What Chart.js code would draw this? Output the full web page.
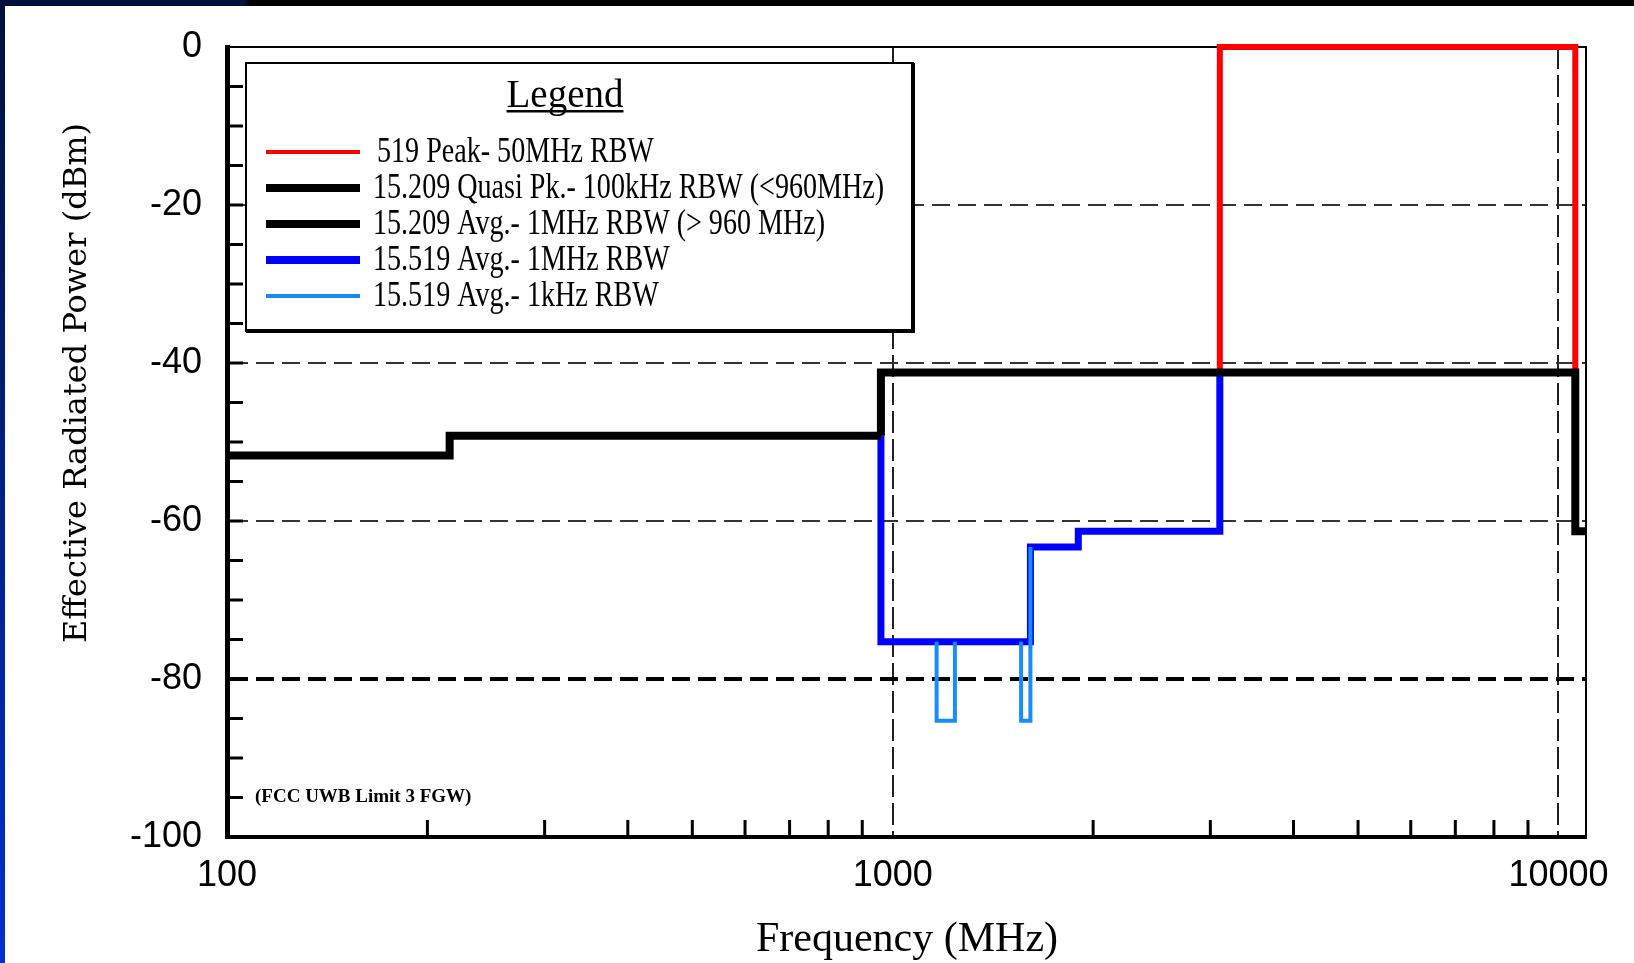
<!DOCTYPE html>
<html>
<head>
<meta charset="utf-8">
<script src="https://cdn.jsdelivr.net/npm/chart.js@4"></script>
<style>
html, body { margin: 0; padding: 0; background: #fff; }
#wrap { position: relative; width: 1634px; height: 963px; overflow: hidden; }
canvas { position: absolute; left: 0; top: 0; }
#topbar { position: absolute; left: 0; top: 0; width: 1634px; height: 6px;
  background: linear-gradient(90deg, #00103a 0, #00103a 244px, #000 250px); }
#leftbar { position: absolute; left: 0; top: 0; width: 5px; height: 963px;
  background: linear-gradient(180deg, #00103a, #0030d0); }
</style>
</head>
<body>
<div id="wrap">
  <canvas id="graph" width="1634" height="963"></canvas>
  <div id="topbar"></div>
  <div id="leftbar"></div>
</div>
<script>
// limits, MHz / dBm (each point = band edge, level of the band ending there)
const peakFreq = [3100, 10600, 10600];
const peakLevel = [-41.2, 0, -41.2];
const qpFreq = [100, 216, 960];
const qpLevel = [-51.7, -51.7, -49.2];
const avgFreq = [960, 10600, 11000];
const avgLevel = [-49.2, -41.2, -61.3];
const uwbFreq = [960, 1610, 1900, 3100, 3100];
const uwbLevel = [-49.2, -75.3, -63.3, -61.3, -41.2];
// GPS notches, 1 kHz RBW (null = break between the two bands)
const gpsFreq = [1164, 1240, 1240, 1240, 1559, 1610, 1610];
const gpsLevel = [-75.3, -85.3, -75.3, null, -75.3, -85.3, -63.3];

const xTicks = [100, 200, 300, 400, 500, 600, 700, 800, 900,
  1000, 2000, 3000, 4000, 5000, 6000, 7000, 8000, 9000, 10000];
const xLabels = [100, 1000, 10000];
const yLabels = [0, -20, -40, -60, -80, -100];
const yGrid = [-20, -40, -60, -80];

function series(label, xs, ys, color, width, keyWidth, order) {
  return {
    label: label,
    data: xs.map((x, i) => ({ x: x, y: ys[i] })),
    borderColor: color,
    borderWidth: width,
    keyWidth: keyWidth,
    stepped: 'after',
    borderJoinStyle: 'miter',
    pointRadius: 0,
    fill: false,
    clip: 6,
    order: order
  };
}

const frame = {
  id: 'frame',
  beforeDatasetsDraw(chart) {
    const { ctx, chartArea: a, scales: { x, y } } = chart;
    ctx.save();
    ctx.strokeStyle = '#000';
    ctx.lineWidth = 2;
    ctx.beginPath();
    ctx.moveTo(a.left, a.top);
    ctx.lineTo(a.right, a.top);
    ctx.lineTo(a.right, a.bottom);
    ctx.stroke();
    // minor ticks point inwards
    ctx.lineWidth = 3;
    ctx.beginPath();
    y.ticks.forEach(t => {
      if (t.value > y.min && t.value < y.max) {
        const py = y.getPixelForValue(t.value);
        ctx.moveTo(a.left, py);
        ctx.lineTo(a.left + 16, py);
      }
    });
    x.ticks.forEach(t => {
      if (!xLabels.includes(t.value)) {
        const px = x.getPixelForValue(t.value);
        ctx.moveTo(px, a.bottom);
        ctx.lineTo(px, a.bottom - 17);
      }
    });
    ctx.stroke();
    ctx.restore();
  },
  afterDatasetsDraw(chart) {
    const { ctx, scales: { x, y } } = chart;
    ctx.save();
    // legend box
    const bx = 246, by = 63, bw = 667, bh = 268;
    ctx.fillStyle = '#fff';
    ctx.fillRect(bx, by, bw, bh);
    ctx.strokeStyle = '#000';
    ctx.lineWidth = 2;
    ctx.strokeRect(bx, by, bw, bh);
    ctx.lineWidth = 4;
    ctx.beginPath();
    ctx.moveTo(bx + bw, by);
    ctx.lineTo(bx + bw, by + bh);
    ctx.lineTo(bx, by + bh);
    ctx.stroke();

    ctx.fillStyle = '#000';
    ctx.font = '39px "Liberation Serif"';
    ctx.textAlign = 'center';
    ctx.textBaseline = 'alphabetic';
    ctx.fillText('Legend', 565, 107);
    const tw = ctx.measureText('Legend').width;
    ctx.fillRect(565 - tw / 2, 110, tw, 2.5);

    ctx.textAlign = 'left';
    ctx.textBaseline = 'middle';
    ctx.font = '36px "Liberation Serif"';
    chart.data.datasets.forEach((ds, i) => {
      const cy = 152 + i * 36;
      ctx.strokeStyle = ds.borderColor;
      ctx.lineWidth = ds.keyWidth;
      ctx.beginPath();
      ctx.moveTo(266, cy);
      ctx.lineTo(360, cy);
      ctx.stroke();
      ctx.save();
      ctx.translate(i === 0 ? 377 : 373, cy + 1);
      ctx.scale(0.78, 1);
      ctx.fillText(ds.label, 0, 0);
      ctx.restore();
    });

    // note near the bottom left
    ctx.font = 'bold 19px "Liberation Serif"';
    ctx.fillText('(FCC UWB Limit 3 FGW)', x.getPixelForValue(100) + 28, y.getPixelForValue(-95));

    // axis titles
    ctx.textAlign = 'center';
    ctx.font = '42px "Liberation Serif"';
    ctx.fillText('Frequency (MHz)', 907, 940);
    ctx.translate(78, 383);
    ctx.rotate(-Math.PI / 2);
    ctx.font = '32px "DejaVu Serif"';
    ctx.fillText('Effective Radiated Power (dBm)', 0, 0);
    ctx.restore();
  }
};

const tickFont = { family: '"Liberation Sans"', size: 36 };

new Chart(document.getElementById('graph'), {
  type: 'line',
  data: {
    datasets: [
      series('519 Peak- 50MHz RBW', peakFreq, peakLevel, '#ff0000', 6, 4, 4),
      series('15.209 Quasi Pk.- 100kHz RBW (<960MHz)', qpFreq, qpLevel, '#000000', 8, 8, 1),
      series('15.209 Avg.- 1MHz RBW (> 960 MHz)', avgFreq, avgLevel, '#000000', 8, 8, 0),
      series('15.519 Avg.- 1MHz RBW', uwbFreq, uwbLevel, '#0000ff', 7, 8, 3),
      series('15.519 Avg.- 1kHz RBW', gpsFreq, gpsLevel, '#168cff', 4, 4, 2)
    ]
  },
  options: {
    responsive: false,
    animation: false,
    layout: { padding: { top: 47, right: 48, left: 0, bottom: 0 } },
    plugins: { legend: { display: false }, tooltip: { enabled: false } },
    scales: {
      x: {
        type: 'logarithmic',
        min: 100,
        max: 11000,
        afterBuildTicks: s => { s.ticks = xTicks.map(v => ({ value: v })); },
        afterFit: s => { s.height = 126; },
        ticks: {
          autoSkip: false, maxRotation: 0, padding: 17, color: '#000', font: tickFont,
          callback: v => xLabels.includes(v) ? String(v) : ''
        },
        grid: {
          drawTicks: false,
          lineWidth: 2,
          color: c => (c.tick && (c.tick.value === 1000 || c.tick.value === 10000)) ? '#222' : 'rgba(0,0,0,0)'
        },
        border: { color: '#000', width: 4, dash: [22, 6] }
      },
      y: {
        type: 'linear',
        min: -100,
        max: 0,
        afterFit: s => { s.width = 227; },
        ticks: {
          stepSize: 5, autoSkip: false, padding: 25, color: '#000', font: tickFont,
          callback: v => yLabels.includes(v) ? String(v) : ''
        },
        grid: {
          drawTicks: false,
          lineWidth: c => (c.tick && c.tick.value === -80) ? 4 : 2,
          color: c => (c.tick && yGrid.includes(c.tick.value)) ? (c.tick.value === -80 ? '#000' : '#333') : 'rgba(0,0,0,0)'
        },
        border: { color: '#000', width: 5, dash: [18, 8] }
      }
    }
  },
  plugins: [frame]
});
</script>
</body>
</html>
